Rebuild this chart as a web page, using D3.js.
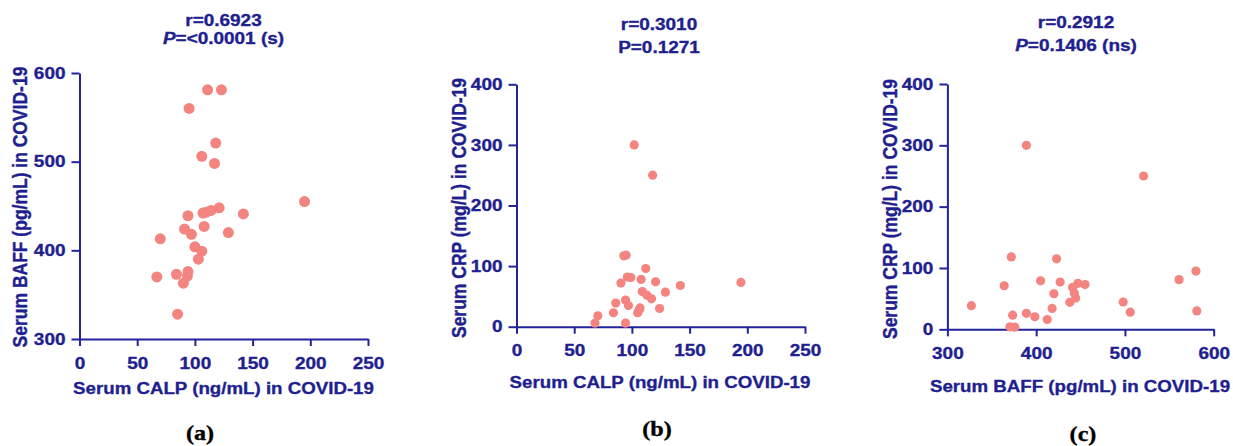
<!DOCTYPE html>
<html>
<head>
<meta charset="utf-8">
<script src="https://cdn.jsdelivr.net/npm/d3@7"></script>
<style>
  body { margin: 0; background: #fff; }
  svg text { font-family: "Liberation Sans", Arial, sans-serif; font-weight: bold; fill: #1f1f8f; stroke: #1f1f8f; stroke-width: 0.35px; }
  .axis path, .axis line { stroke: #23239a; stroke-width: 2; }
  .panel-label { font-family: "Liberation Serif", "Times New Roman", serif !important; fill: #000 !important; stroke: #000 !important; }
</style>
</head>
<body>
<script>
/*** DATA ***/
// (a) CALP vs BAFF
let calpA = [111, 123, 95, 118, 106, 117, 195, 107, 110, 114, 121, 142, 94, 108, 91, 97, 129, 70, 100, 106, 103, 67, 84, 94, 93.5, 90, 85];
let baffA = [581, 581, 560, 521, 506, 498, 455, 442, 443, 445, 448, 441, 439, 427, 424, 418, 420, 413, 404, 399, 390, 370, 373, 376, 371, 363, 328];
// (b) CALP vs CRP
let calpB = [102, 118, 93, 95, 112, 96, 99, 108, 90.5, 120.5, 142, 129, 109, 113, 117, 86, 94.5, 97, 106.5, 105, 124, 84, 70.5, 68, 94.5, 194.5, 107];
let crpB = [300, 250, 117, 118, 96, 82, 81, 78, 72, 74, 68, 57, 58, 52, 46, 39, 44, 35, 28, 23, 30, 23, 18, 6, 6, 73, 31];
// (c) BAFF vs CRP
let baffC = [389, 521, 372, 423, 580, 561, 405, 427, 447, 455, 441, 364, 420, 443, 444.5, 438, 327, 498, 506, 581, 418, 373.5, 389, 398.5, 412.5, 370.5, 376];
let crpC = [300, 250, 118, 115, 95, 81, 79, 77, 75, 73, 68.5, 71, 58, 59, 51, 44, 38.5, 44.5, 28, 30, 34, 23, 26, 20.5, 16, 4, 3.5];

let calpTicks = [0, 50, 100, 150, 200, 250];
let baffTicks = [300, 400, 500, 600];
let crpTicks = [0, 100, 200, 300, 400];

/*** GRAPH ***/
let SX = 1.15; // the picture is a bit wider than tall
let svg = d3.select("body").append("svg")
  .attr("width", 1233)
  .attr("height", 446);

let panels = [
  { xs: calpA, ys: baffA, xDom: [0, 250], yDom: [300, 600], xTicks: calpTicks, yTicks: baffTicks,
    xr: [79.5, 368], yr: [339, 73], r: 5.5,
    rText: "r=0.6923", pItalic: true, pText: "=<0.0001 (s)", tx: 223.5, ty: 26, gap: 18,
    xLabel: "Serum CALP (ng/mL) in COVID-19", xlx: 223.5, xly: 394,
    yLabel: "Serum BAFF (pg/mL) in COVID-19", ylx: 27, yly: 207,
    tag: "(a)", tagx: 200, tagy: 440 },
  { xs: calpB, ys: crpB, xDom: [0, 250], yDom: [0, 400], xTicks: calpTicks, yTicks: crpTicks,
    xr: [516.5, 805], yr: [326.7, 84.3], r: 4.6,
    rText: "r=0.3010", pItalic: false, pText: "P=0.1271", tx: 659, ty: 30, gap: 23,
    xLabel: "Serum CALP (ng/mL) in COVID-19", xlx: 660, xly: 388,
    yLabel: "Serum CRP (mg/L) in COVID-19", ylx: 466, yly: 208,
    tag: "(b)", tagx: 657, tagy: 436 },
  { xs: baffC, ys: crpC, xDom: [300, 600], yDom: [0, 400], xTicks: baffTicks, yTicks: crpTicks,
    xr: [947.4, 1213.7], yr: [329.3, 84], r: 4.6,
    rText: "r=0.2912", pItalic: true, pText: "=0.1406 (ns)", tx: 1076, ty: 28, gap: 23,
    xLabel: "Serum BAFF (pg/mL) in COVID-19", xlx: 1080, xly: 392,
    yLabel: "Serum CRP (mg/L) in COVID-19", ylx: 897, yly: 209,
    tag: "(c)", tagx: 1083, tagy: 441 }
];

panels.forEach((p) => {
  let x = d3.scaleLinear().domain(p.xDom).range(p.xr);
  let y = d3.scaleLinear().domain(p.yDom).range(p.yr);

  /* abscisses */
  let gx = svg.append("g")
    .attr("class", "axis")
    .attr("transform", "translate(0," + p.yr[0] + ")")
    .call(d3.axisBottom(x).tickValues(p.xTicks).tickSize(7).tickSizeOuter(0).tickPadding(0));
  gx.selectAll("text")
    .attr("y", 18).attr("dy", "0.71em")
    .attr("transform", "scale(" + SX + ",1)")
    .style("font-size", "16.5px");

  /* ordonnées */
  let gy = svg.append("g")
    .attr("class", "axis")
    .attr("transform", "translate(" + p.xr[0] + ",0)")
    .call(d3.axisLeft(y).tickValues(p.yTicks).tickSize(8).tickSizeOuter(0));
  gy.selectAll("text")
    .attr("x", -14 / SX)
    .attr("transform", "scale(" + SX + ",1)")
    .style("font-size", "16.5px");
  svg.selectAll(".axis text").attr("fill", null);

  /* points */
  svg.append("g").selectAll("circle")
    .data(p.xs)
    .enter().append("circle")
    .attr("cx", (d) => x(d))
    .attr("cy", (d, i) => y(p.ys[i]))
    .attr("r", p.r)
    .style("fill", "#f38480");

  /* titre (r + P sur deux lignes) */
  let t = svg.append("text")
    .attr("transform", "translate(" + p.tx + "," + p.ty + ") scale(1.2,1)")
    .attr("text-anchor", "middle")
    .style("font-size", "15.8px");
  t.append("tspan").attr("x", 0).text(p.rText);
  let l2 = t.append("tspan").attr("x", 0).attr("dy", p.gap);
  if (p.pItalic) {
    l2.append("tspan").style("font-style", "italic").text("P");
  }
  l2.append("tspan").text(p.pText);

  /* labels */
  svg.append("text")
    .attr("transform", "translate(" + p.xlx + "," + p.xly + ") scale(" + (SX - 0.05) + ",1)")
    .attr("text-anchor", "middle")
    .style("font-size", "17px")
    .text(p.xLabel);
  svg.append("text")
    .attr("transform", "translate(" + p.ylx + "," + p.yly + ") rotate(-90) scale(1," + SX + ")")
    .attr("text-anchor", "middle")
    .style("font-size", "17.5px")
    .text(p.yLabel);

  svg.append("text")
    .attr("class", "panel-label")
    .attr("transform", "translate(" + p.tagx + "," + p.tagy + ") scale(" + SX + ",1)")
    .attr("text-anchor", "middle")
    .style("font-size", "21px")
    .text(p.tag);
});
</script>
</body>
</html>
